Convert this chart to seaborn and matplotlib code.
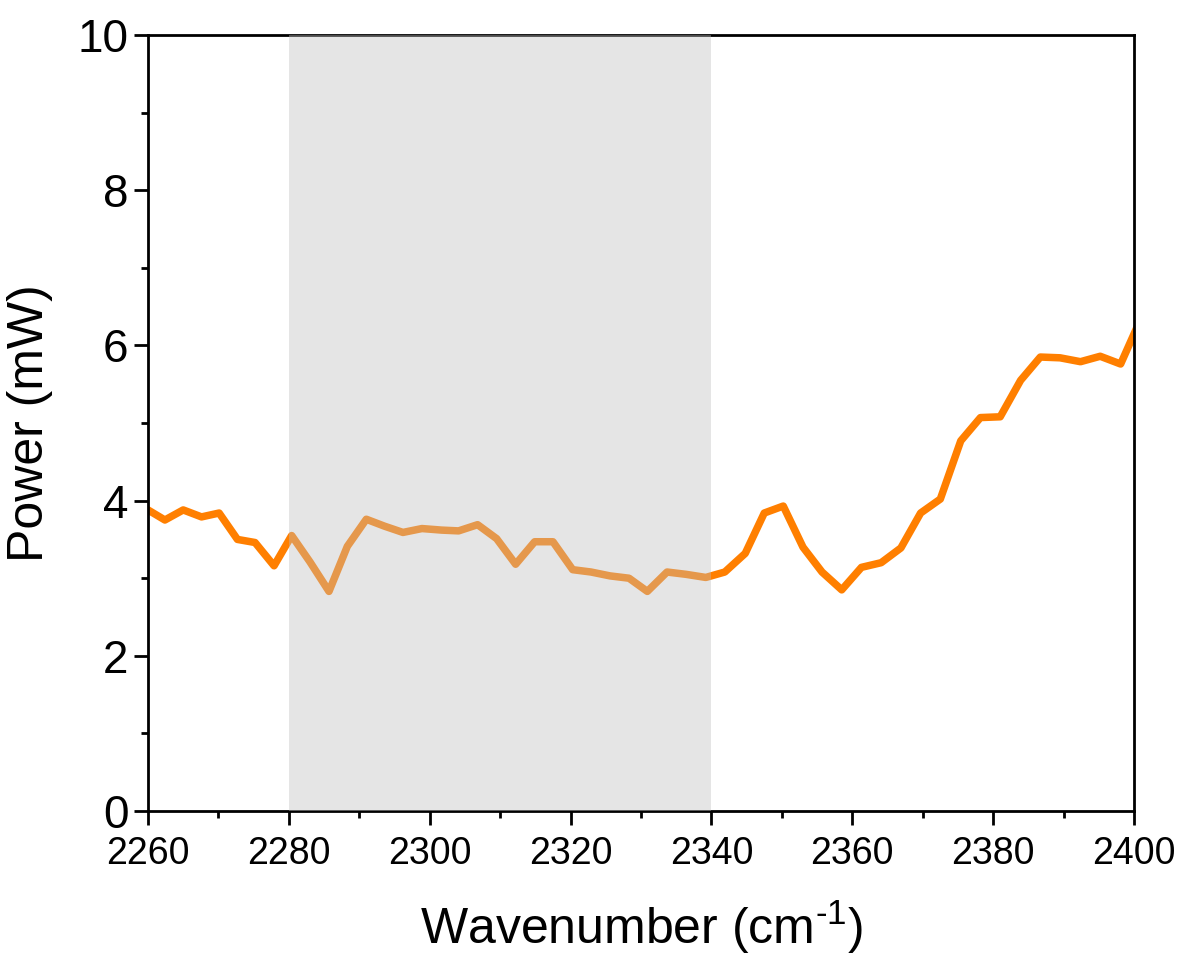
import matplotlib
matplotlib.use("Agg")
import matplotlib.pyplot as plt
from matplotlib.ticker import MultipleLocator
import seaborn as sns
import pandas as pd

wavenumber = [2260.0, 2262.4, 2265.0, 2267.6, 2270.1, 2272.7, 2275.2, 2277.9, 2280.4,
              2283.0, 2285.7, 2288.3, 2291.0, 2293.6, 2296.2, 2298.9, 2301.7, 2304.1,
              2306.8, 2309.5, 2312.2, 2314.9, 2317.5, 2320.3, 2322.9, 2325.6, 2328.3,
              2330.9, 2333.7, 2336.4, 2339.2, 2341.9, 2344.8, 2347.5, 2350.2, 2353.0,
              2355.7, 2358.5, 2361.3, 2364.1, 2366.9, 2369.7, 2372.5, 2375.4, 2378.2,
              2381.0, 2383.9, 2386.7, 2389.5, 2392.4, 2395.2, 2398.1, 2400.9]
power = [3.88, 3.75, 3.88, 3.79, 3.84, 3.50, 3.46, 3.16, 3.55,
         3.21, 2.83, 3.41, 3.76, 3.67, 3.59, 3.64, 3.62, 3.61,
         3.69, 3.51, 3.18, 3.47, 3.47, 3.11, 3.08, 3.03, 3.00,
         2.83, 3.08, 3.05, 3.01, 3.08, 3.32, 3.84, 3.93, 3.40,
         3.08, 2.85, 3.14, 3.20, 3.39, 3.84, 4.02, 4.77, 5.07,
         5.08, 5.55, 5.85, 5.84, 5.79, 5.86, 5.76, 6.33]
shade_range = [2280, 2340]
x_ticks = [2260, 2280, 2300, 2320, 2340, 2360, 2380, 2400]
y_ticks = [0, 2, 4, 6, 8, 10]

sns.set_theme(style="ticks")
plt.rcParams['font.family'] = ['Liberation Sans', 'DejaVu Sans']
plt.rcParams['text.color'] = 'black'
plt.rcParams['axes.labelcolor'] = 'black'
plt.rcParams['xtick.color'] = 'black'
plt.rcParams['ytick.color'] = 'black'
plt.rcParams['mathtext.fontset'] = 'custom'
plt.rcParams['mathtext.rm'] = 'Liberation Sans'
plt.rcParams['axes.unicode_minus'] = False

df = pd.DataFrame({"Wavenumber": wavenumber, "Power": power})

fig = plt.figure(figsize=(11.82, 9.58), dpi=100)
ax = fig.add_axes([0.1252, 0.1534, 0.8342, 0.8101])

sns.lineplot(data=df, x="Wavenumber", y="Power", ax=ax, color="#FF7F00",
             linewidth=5.4, zorder=2)
ax.axvspan(shade_range[0], shade_range[1], color=(0.75, 0.75, 0.75), alpha=0.4,
           linewidth=0, zorder=3)

ax.set_xlim(2260, 2400)
ax.set_ylim(0, 10)
ax.set_xticks(x_ticks)
ax.set_yticks(y_ticks)
ax.xaxis.set_minor_locator(MultipleLocator(10))
ax.yaxis.set_minor_locator(MultipleLocator(1))

for s in ax.spines.values():
    s.set_linewidth(2.0)
    s.set_color("black")
    s.set_visible(True)

ax.tick_params(axis="both", which="major", direction="out", length=10, width=2.0,
               color="black")
ax.tick_params(axis="both", which="minor", direction="out", length=5, width=2.0,
               color="black")
ax.tick_params(axis="y", which="major", labelsize=33, pad=4)
ax.tick_params(axis="x", which="major", labelsize=27, pad=8)

ax.set_xlabel("Wavenumber (cm$^{\\text{-1}}$)", fontsize=36, labelpad=19)
ax.set_ylabel("Power (mW)", fontsize=36, labelpad=18)

fig.savefig("out.png", dpi=100)
